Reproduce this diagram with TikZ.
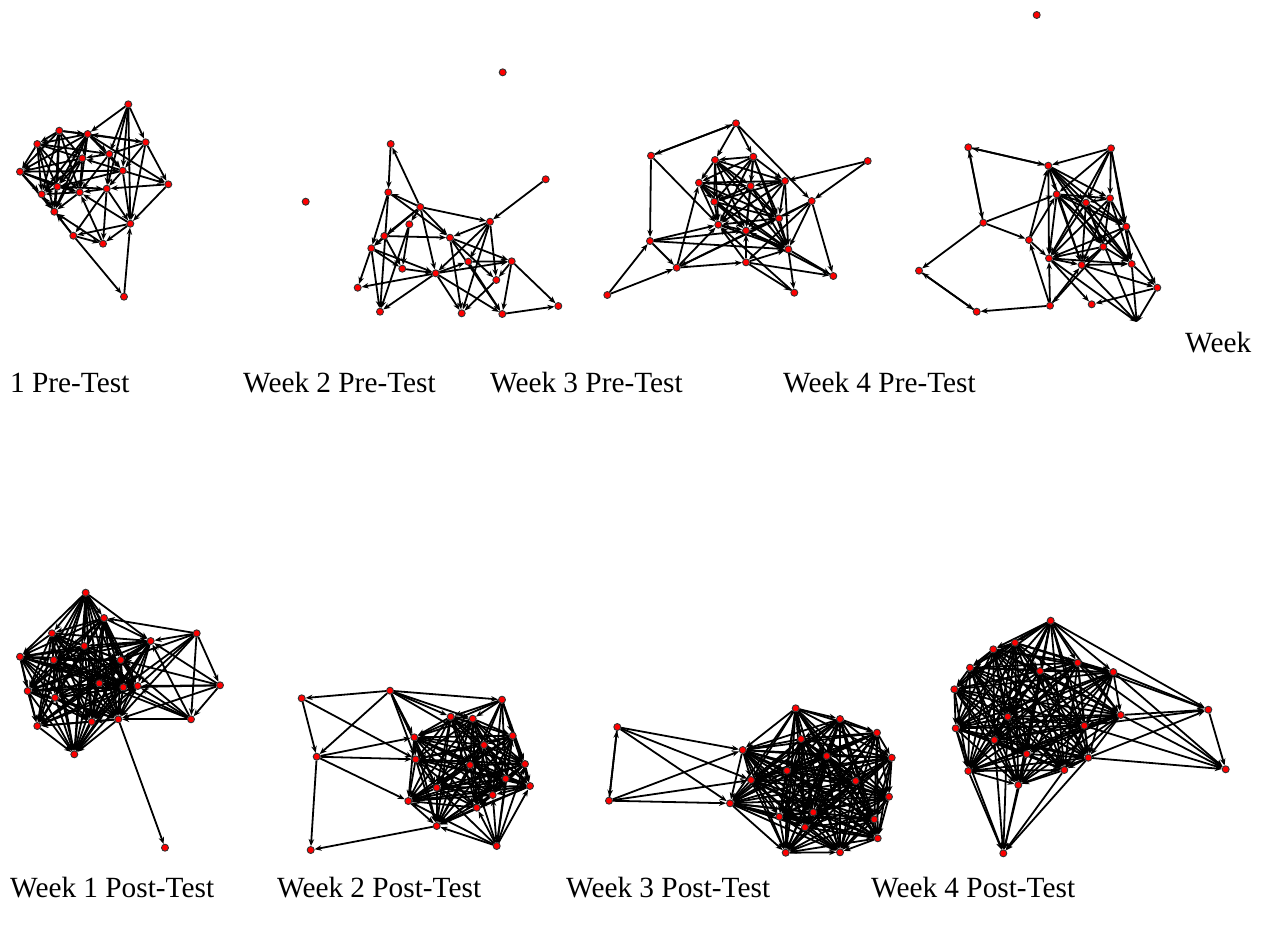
\documentclass[tikz,border=0pt]{standalone}
\usepackage{fontspec}
\setmainfont{Liberation Serif}
\usepackage{tikz}
\usetikzlibrary{arrows.meta,backgrounds}
\newcommand{\netmesh}[2]{%
  \foreach \s [count=\i] in {#2}{%
    \foreach \t [count=\j] in {#2}{%
      \ifnum\j>\i\relax \draw[link] (#1\s) -- (#1\t);\fi}}}

\begin{document}
\begin{tikzpicture}[x=1pt,y=-1pt,
  dot/.style={circle,draw=black!80,fill=red,line width=0.9pt,inner sep=0pt,minimum size=7pt},
  link/.style={-{Stealth[length=7pt,width=5.5pt]},line width=1.8pt,black},
  lbl/.style={anchor=base west,inner sep=0pt,font=\fontsize{29.3}{31}\selectfont}]
  \useasboundingbox (0,0) rectangle (1263,932);
  % pre-test networks
  \foreach \n/\x/\y in {1/128.3/104.3,2/59.3/130.7,3/87.7/134,4/37.3/144,5/145.7/142.3,6/109.3/154,
    7/82.3/158.3,8/20/171.7,9/122.7/170.7,10/168.3/184.3,11/57.3/186.7,12/106.7/188.7,13/79.7/192.3,
    14/41.7/194.3,15/54.3/211.7,16/130.3/223.7,17/73.3/235.7,18/103/243.7,19/124/296.7}
    \node[dot](a\n) at (\x,\y){};
  \foreach \n/\x/\y in {0/502.7/72.3,1/390.7/144,2/545.7/179.3,3/388.3/192.3,4/420.3/207,5/490/221.7,
    6/409.3/224.3,7/384.3/236,8/450/237.7,9/371.3/248.3,10/468.3/261.7,11/511.7/261.3,12/402.3/268.7,
    13/435.7/273.3,14/496.3/280,15/357.7/287.7,16/380/311.7,17/461.7/313.3,18/502.3/314,19/558.3/306,
    20/305.7/201.7}
    \node[dot](b\n) at (\x,\y){};
  \foreach \n/\x/\y in {1/736/123.3,2/651/155.7,3/753.3/156.7,4/715/160,5/867.7/161,6/785/181,7/699/182.7,
    8/750.7/186,9/811.7/201,10/714.3/201.7,11/779/218.3,12/718.3/224.7,13/746/230.7,14/650/241,
    15/788.3/249.3,16/746/262.3,17/676.7/267.7,18/833.3/276,19/794.3/292.7,20/607.3/295}
    \node[dot](c\n) at (\x,\y){};
  \foreach \n/\x/\y in {0/1036.7/15,1/968.3/147.3,2/1111/148.3,3/1048.3/165.7,4/1056.7/194.3,5/1110/198.3,
    6/1086/202.7,7/983.3/222.7,8/1126.3/226.7,9/1029/240,10/1103.3/246.7,11/1049/258.3,12/1081.7/265,
    13/1131.7/264,14/919/270.7,15/1157.3/287.7,16/1050/305.7,17/1091.7/304.3,18/976.7/311.7}
    \node[dot](d\n) at (\x,\y){};
  \coordinate (d20) at (1136.7,322);
  % post-test networks
  \foreach \n/\x/\y in {1/85.7/592.7,2/104/618,3/52/633.3,4/196.7/633.3,5/150.7/641,6/84.3/646,7/20/656.7,
    8/53.7/660,9/120.7/660,10/99.3/683.3,11/220/685.3,12/123.3/687.3,13/137.7/686,14/27.7/691,15/55/697.7,
    16/191/719.3,17/118.3/719.3,18/91.7/721.7,19/37.3/726,20/74.3/754.3,21/165/847.7}
    \node[dot](e\n) at (\x,\y){};
  \foreach \n/\x/\y in {1/301.7/698.3,2/390/690.7,3/502/699.7,4/450.7/716.7,5/472.7/718.7,6/512.7/735.7,
    7/414.3/737.3,8/484/745,9/316.7/756.7,10/415.7/759.3,11/525/764,12/470/765,13/505.7/778.7,14/530/786,
    15/436.7/787.7,16/492.7/795,17/408.3/801,18/476.7/807.7,19/436.7/826,20/496.7/846,21/310.7/850}
    \node[dot](f\n) at (\x,\y){};
  \foreach \n/\x/\y in {1/795.7/708.3,2/617.3/727,3/840/719,4/877/732.7,5/801/739,6/742.7/750,7/891.7/757.7,
    8/826.7/756,9/787/770.7,10/751/780,11/855.7/781,12/889/796.7,13/609/800.7,14/730/803.3,15/813.3/812.3,
    16/779.3/816.7,17/874.3/819.3,18/805/827.3,19/877.7/838.3,20/785.7/852.7,21/840/852.3}
    \node[dot](g\n) at (\x,\y){};
  \foreach \n/\x/\y in {1/1050.7/620.7,2/1015/642.7,3/993.3/649.3,4/1077.7/662.7,5/970/667.7,6/1040/671,
    7/1113.3/672,8/954.3/689.3,9/1208.3/709.7,10/1120.7/715,11/1007.7/716.7,12/1084.3/725.7,13/955.7/728.3,
    14/994.3/740,15/1026.7/754,16/1088.3/757.7,17/1225.7/769.3,18/968.3/771,19/1064.3/770,20/1018.3/785,
    21/1003.3/853.3}
    \node[dot](h\n) at (\x,\y){};
  \begin{scope}[on background layer]
    \netmesh{a}{2,3,4,7,8,11,13,14,15}
    \foreach \s/\t in {1/3,1/6,1/9,1/12,1/16,1/5,5/3,5/6,5/9,5/10,5/16,2/5,3/6,3/9,3/10,6/9,6/12,6/7,6/13,
      9/10,9/12,9/16,9/7,8/9,9/11,10/12,10/16,12/13,12/16,12/18,12/17,16/17,16/18,16/13,17/18,17/19,19/16,
      18/13,18/15,17/15,17/14,11/12,4/6}
      \draw[link](a\s)--(a\t);
    \foreach \s/\t in {4/1,1/3,2/5,4/3,4/5,4/7,4/6,4/9,4/13,4/8,3/9,3/8,3/16,7/8,7/12,7/9,6/16,6/12,9/15,
      9/16,9/13,9/12,12/13,13/15,13/16,13/11,13/17,13/18,13/10,5/8,5/10,5/13,5/14,5/17,8/14,8/11,8/17,
      10/11,10/18,11/18,11/14,14/17,18/19,11/19,8/18}
      \draw[link](b\s)--(b\t);
    \netmesh{c}{3,4,6,7,8,10,11,12,13,15}
    \foreach \s/\t in {1/2,2/1,1/4,1/3,1/9,2/14,2/12,5/6,5/9,9/15,9/18,9/17,9/16,9/11,20/14,20/17,14/17,
      14/15,14/13,14/12,17/7,17/12,17/11,17/16,16/19,16/12,16/13,16/15,15/19,15/18,19/12,18/13,16/18}
      \draw[link](c\s)--(c\t);
    \netmesh{d}{3,4,5,6,8,10,11,12,13}
    \foreach \s/\t in {1/3,3/1,1/7,7/1,2/3,2/4,2/5,2/6,2/8,2/11,2/13,7/14,7/9,7/4,14/18,18/14,16/18,
      16/12,16/9,16/11,9/4,9/11,9/3,8/15,11/17,11/20,12/15,13/15,15/17,15/20,12/20,10/16,6/20,13/20}
      \draw[link](d\s)--(d\t);
    \netmesh{e}{1,2,3,5,6,7,8,9,10,12,13,14,15,17,18,19,20}
    \foreach \s/\t in {4/11,4/16,11/16,4/5,4/13,4/9,4/12,4/2,4/17,11/5,11/13,11/12,11/17,11/9,
      16/5,16/13,16/17,16/12,16/9,16/10,17/21}
      \draw[link](e\s)--(e\t);
    \netmesh{f}{4,5,6,7,8,10,11,12,13,14,15,16,17,18,19}
    \foreach \s/\t in {3/4,3/5,3/6,3/7,3/8,3/11,3/12,3/13,3/14,3/16,20/19,20/18,20/16,20/13,20/14,
      20/11,20/15,20/17,20/12,20/6,2/1,2/9,2/3,2/4,2/5,2/7,2/10,2/15,2/8,1/9,1/10,9/10,9/7,9/17,9/21,19/21}
      \draw[link](f\s)--(f\t);
    \netmesh{g}{1,3,4,5,6,7,8,9,10,11,12,14,15,16,17,18,19,20,21}
    \foreach \s/\t in {2/13,13/2,2/6,2/10,2/14,13/6,13/10,13/14}
      \draw[link](g\s)--(g\t);
    \netmesh{h}{1,2,3,4,5,6,7,8,10,11,12,13,14,15,16,18,19,20}
    \foreach \s/\t in {9/17,7/9,10/9,16/9,4/9,12/9,1/9,7/17,10/17,16/17,12/17,4/17,
      18/21,20/21,19/21,16/21,14/21,11/21,13/21,15/21}
      \draw[link](h\s)--(h\t);
  \end{scope}
  % captions
  \node[lbl](w1pre) at (1185,352){Week};
  \node[lbl](l1pre) at (10,392){1 Pre-Test};
  \node[lbl](l2pre) at (243,392){Week 2 Pre-Test};
  \node[lbl](l3pre) at (490,392){Week 3 Pre-Test};
  \node[lbl](l4pre) at (783,392){Week 4 Pre-Test};
  \node[lbl](l1post) at (10,897){Week 1 Post-Test};
  \node[lbl](l2post) at (277,897){Week 2 Post-Test};
  \node[lbl](l3post) at (566,897){Week 3 Post-Test};
  \node[lbl](l4post) at (871,897){Week 4 Post-Test};
\end{tikzpicture}
\end{document}
